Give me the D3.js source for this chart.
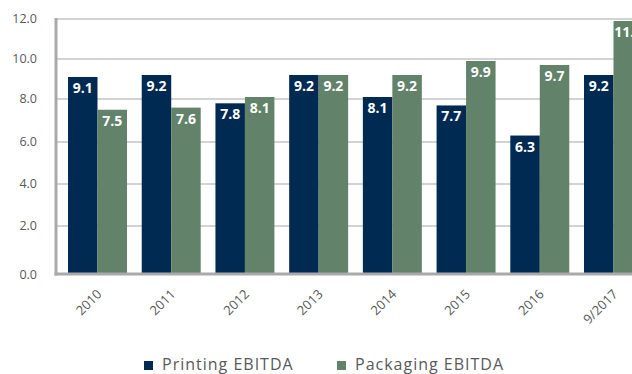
<!DOCTYPE html>
<html>
<head>
<meta charset="utf-8">
<script src="https://cdn.jsdelivr.net/npm/d3@7"></script>
<style>
  html, body { margin: 0; padding: 0; background: #fff; }
  svg { display: block; font-family: "Open Sans", "Lato", sans-serif; }
</style>
</head>
<body>
<svg id="chart" width="632" height="374"></svg>
<script>
const categories = ["2010", "2011", "2012", "2013", "2014", "2015", "2016", "9/2017"];
const printing = [9.1, 9.2, 7.8, 9.2, 8.1, 7.7, 6.3, 9.2];
const packaging = [7.5, 7.6, 8.1, 9.2, 9.2, 9.9, 9.7, 11.9];
const seriesNames = ["Printing EBITDA", "Packaging EBITDA"];
const yTicks = [0, 2, 4, 6, 8, 10, 12];

const colors = ["#012a52", "#62826a"];
const svg = d3.select("#chart");

const plotLeft = 56, plotRight = 655, plotTop = 19, plotBottom = 273;

const x = d3.scaleBand().domain(categories).range([plotLeft, plotRight])
  .paddingInner(0.2).paddingOuter(0.163);
const xs = d3.scaleBand().domain([0, 1]).range([0, x.bandwidth()]);
// the source raster has slightly uneven gridline spacing; follow it piecewise
const y = d3.scaleLinear().domain(yTicks).range([plotBottom, 226, 184, 142, 99, 59, plotTop]);

// gridlines
svg.append("g").selectAll("line").data(yTicks.filter(d => d > 0)).join("line")
  .attr("x1", plotLeft).attr("x2", 632)
  .attr("y1", d => y(d)).attr("y2", d => y(d))
  .attr("stroke", "#c4c4c4").attr("stroke-width", 1.3);

// y tick labels
svg.append("g").selectAll("text").data(yTicks).join("text")
  .attr("x", 37).attr("y", d => y(d) + (d === 0 ? 2 : 0))
  .attr("dy", "0.35em").attr("text-anchor", "end")
  .attr("font-size", 12.5).attr("fill", "#595959")
  .text(d => d.toFixed(1));

// bars
const data = categories.map((c, i) => ({ c, vals: [printing[i], packaging[i]] }));
const groups = svg.append("g").selectAll("g").data(data).join("g")
  .attr("transform", d => `translate(${x(d.c)},0)`);

groups.selectAll("rect").data(d => d.vals).join("rect")
  .attr("x", (d, i) => xs(i)).attr("width", xs.bandwidth())
  .attr("y", d => y(d)).attr("height", d => y(0) - y(d))
  .attr("fill", (d, i) => colors[i]);

groups.selectAll("text").data(d => d.vals).join("text")
  .attr("x", (d, i) => xs(i) + xs.bandwidth() / 2)
  .attr("y", d => y(d) + 16)
  .attr("text-anchor", "middle")
  .attr("font-size", 14).attr("font-weight", "bold").attr("fill", "#fff")
  .text(d => d.toFixed(1));

// axes lines
svg.append("line").attr("x1", plotLeft).attr("x2", plotLeft)
  .attr("y1", plotTop - 1).attr("y2", plotBottom + 2.5)
  .attr("stroke", "#a9a9ab").attr("stroke-width", 3);
svg.append("line").attr("x1", plotLeft - 1.5).attr("x2", 632)
  .attr("y1", plotBottom + 1).attr("y2", plotBottom + 1)
  .attr("stroke", "#a9a9ab").attr("stroke-width", 3);

// x labels
svg.append("g").selectAll("text").data(categories).join("text")
  .attr("transform", d => `translate(${x(d) + x.bandwidth() / 2 + 5},${plotBottom + 22}) rotate(-45)`)
  .attr("text-anchor", "end").attr("font-size", 13).attr("fill", "#595959")
  .text(d => d);

// legend
const legend = svg.append("g");
const legendX = [144, 337];
seriesNames.forEach((name, i) => {
  legend.append("rect").attr("x", legendX[i]).attr("y", 361).attr("width", 9).attr("height", 9)
    .attr("fill", colors[i]);
  legend.append("text").attr("x", legendX[i] + 18).attr("y", 370)
    .attr("font-size", 16).attr("fill", "#595959").attr("letter-spacing", 1)
    .text(name);
});
</script>
</body>
</html>
